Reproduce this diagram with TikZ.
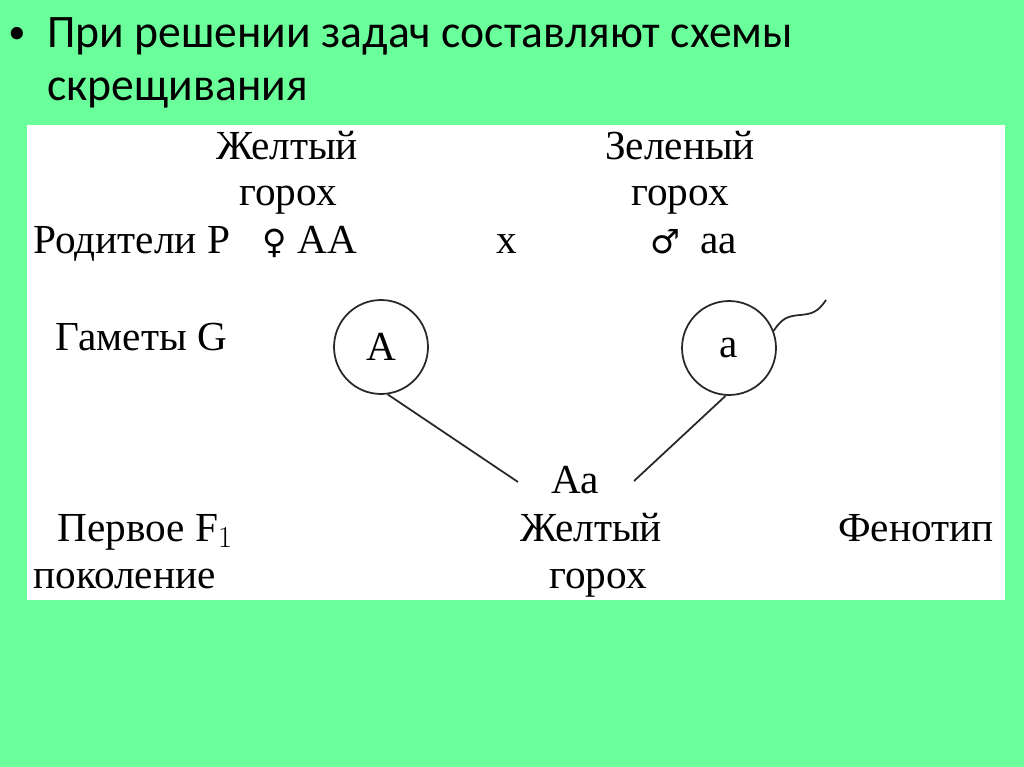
\documentclass[tikz,border=0pt]{standalone}
\usepackage{fontspec}
\setmainfont{Liberation Serif}
\newfontfamily\slidefont[FakeStretch=0.98]{Carlito}
\newfontfamily\sexfont{DejaVu Sans}
\usepackage{xcolor}
\usetikzlibrary{positioning}
\definecolor{slidegreen}{RGB}{106,255,155}
\definecolor{inkgray}{RGB}{40,40,40}
\tikzset{
    crosstext/.style={inner sep=0pt, text=black, font=\fontsize{23.5}{26}\selectfont},
    crosssex/.style={inner sep=0pt, anchor=base west, text=black, font=\sexfont\fontsize{19}{22}\selectfont},
    crosstitle/.style={inner sep=0pt, anchor=base west, text=black, font=\slidefont\fontsize{26.5}{30}\selectfont},
    crossgamete/.style={draw=inkgray, circle, line width=1pt, minimum size=1.88cm, inner sep=0pt, font=\fontsize{23.5}{26}\selectfont},
    crossline/.style={draw=inkgray, line width=1pt}
}

\begin{document}
\begin{tikzpicture}[x=0.02cm, y=-0.02cm]
    \fill[slidegreen] (0,0) rectangle (1024,767);
    \fill[white] (27,125) rectangle (1005,600);
    \useasboundingbox (0,0) rectangle (1024,767);
    % title
    \node[crosstitle, font=\slidefont\fontsize{20}{24}\selectfont] (dot) at (8,44) {•};
    \node[crosstitle] (title1) at (47,48) {При решении задач составляют схемы};
    \node[crosstitle] (title2) at (47,101) {скрещивания};
    % parents
    \node[crosstext, anchor=base] (yel) at (287,159) {Желтый};
    \node[crosstext, anchor=base] (yelpea) at (288,205) {горох};
    \node[crosstext, anchor=base] (grn) at (680,159) {Зеленый};
    \node[crosstext, anchor=base] (grnpea) at (680,205) {горох};
    \node[crosstext, anchor=base west] (par) at (33,253) {Родители Р};
    \node[crosssex] (fem) at (262,253) {♀};
    \node[crosstext, anchor=base west] (fAA) at (297,253) {АА};
    \node[crosstext, anchor=base] (cross) at (507,253) {х};
    \node[crosssex] (male) at (650,253) {♂};
    \node[crosstext, anchor=base west] (maa) at (700,253) {аа};
    % gametes
    \node[crosstext, anchor=base west] (gam) at (55,350) {Гаметы G};
    \node[crossgamete] (gA) at (381,347) {А};
    \node[crossgamete] (ga) at (729,348) {а};
    \draw[crossline] (ga.21) .. controls (782,318) and (788,316) .. (800,315)
        .. controls (812,314) and (818,312) .. (826,300);
    % offspring
    \node[crosstext, anchor=base] (Aa) at (575,493) {Аа};
    \coordinate (jA) at (518,482);
    \coordinate (ja) at (634,481);
    \draw[crossline] (gA.-82) -- (jA);
    \draw[crossline] (ga.-94) -- (ja);
    \node[crosstext, anchor=base west] (first) at (57,541) {Первое F$_1$};
    \node[crosstext, anchor=base west] (gen) at (33,588) {поколение};
    \node[crosstext, anchor=base] (f1yel) at (591,541) {Желтый};
    \node[crosstext, anchor=base] (f1pea) at (598,588) {горох};
    \node[crosstext, anchor=base west] (phen) at (838,541) {Фенотип};
\end{tikzpicture}
\end{document}
